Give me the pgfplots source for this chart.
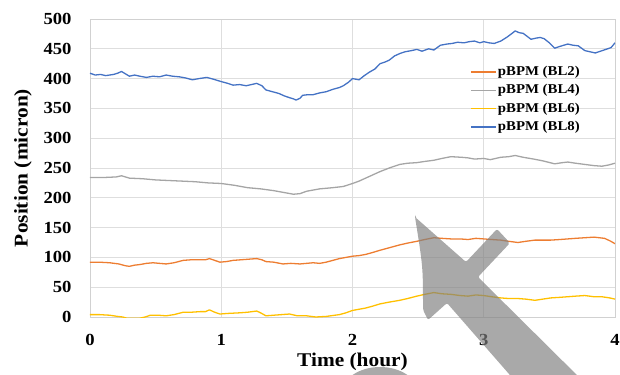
\documentclass[border=0pt]{standalone}
\usepackage{pgfplots}
\pgfplotsset{compat=1.18}
\usepackage{fontspec}
\setmainfont{Liberation Serif}[FakeStretch=1.1]
\definecolor{cOr}{HTML}{ED7D31}
\definecolor{cGr}{HTML}{A5A5A5}
\definecolor{cYe}{HTML}{FFC000}
\definecolor{cBl}{HTML}{4472C4}
\begin{document}
\begin{tikzpicture}
\useasboundingbox (-90bp,-58bp) rectangle (530bp,317bp);
\clip (-90bp,-58bp) rectangle (530bp,317bp);
\begin{axis}[
  at={(0,0)}, anchor=south west,
  scale only axis, width=525bp, height=298bp,
  xmin=0, xmax=4, ymin=0, ymax=500,
  xtick={0,1,2,3,4}, ytick={0,50,...,500},
  grid=major, grid style={black!13, line width=0.8pt},
  axis line style={black!18, line width=0.8pt},
  tick style={draw=none},
  /pgf/number format/assume math mode=true,
  ticklabel style={font=\bfseries\fontsize{17}{17}\selectfont},
  xticklabel style={yshift=-14bp},
  yticklabel style={xshift=-15bp},
  xlabel={Time (hour)}, ylabel={Position (micron)},
  label style={font=\bfseries\fontsize{19.5}{20}\selectfont},
  xlabel style={yshift=0bp},
  ylabel style={yshift=5bp},
  legend style={at={(axis cs:2.895,425)}, anchor=north west, draw=none, fill=none,
    font=\bfseries\fontsize{13.5}{13.5}\selectfont, row sep=2.4bp, inner sep=0pt,
    nodes={inner sep=1.5bp, text height=10bp, text depth=3bp}},
  legend cell align=left,
  legend image code/.code={\draw[#1] (0bp,0bp) -- (25bp,0bp);},
  every axis plot/.append style={line width=1.3pt, line join=round},
]
\addplot[color=cOr] coordinates {(0,92) (0.07,92) (0.15,91) (0.22,89) (0.27,86) (0.30,85) (0.34,87) (0.38,88) (0.43,90) (0.48,91) (0.53,90) (0.58,89) (0.64,91) (0.71,95) (0.77,96) (0.84,96) (0.88,96) (0.91,98) (0.95,95) (0.99,92) (1.04,93) (1.09,95) (1.15,96) (1.21,97) (1.27,98) (1.31,96) (1.34,93) (1.40,92) (1.47,89) (1.53,90) (1.60,89) (1.65,90) (1.70,91) (1.75,90) (1.80,92) (1.85,95) (1.90,98) (1.95,100) (2.0,102) (2.05,103) (2.1,105) (2.15,108) (2.21,112) (2.26,115) (2.31,118) (2.36,121) (2.42,124) (2.49,127) (2.55,130) (2.62,133) (2.68,132) (2.75,131) (2.82,131) (2.88,130) (2.94,132) (3.0,131) (3.06,130) (3.13,129) (3.19,127) (3.26,125) (3.32,127) (3.39,129) (3.45,129) (3.51,129) (3.58,130) (3.64,131) (3.70,132) (3.77,133) (3.84,134) (3.88,133) (3.92,132) (3.96,128) (4.0,123)};
\addlegendentry{pBPM (BL2)}
\addplot[color=cGr] coordinates {(0,234) (0.1,234) (0.2,235) (0.24,237) (0.3,233) (0.4,232) (0.5,230) (0.6,229) (0.7,228) (0.8,227) (0.9,225) (1.0,224) (1.1,221) (1.2,217) (1.3,215) (1.4,212) (1.5,208) (1.55,206) (1.6,207) (1.65,211) (1.7,213) (1.75,215) (1.8,216) (1.85,217) (1.93,219) (2.0,224) (2.05,228) (2.1,233) (2.15,238) (2.21,244) (2.28,250) (2.36,256) (2.42,258) (2.49,259) (2.55,261) (2.62,263) (2.68,266) (2.75,269) (2.83,268) (2.88,267) (2.93,265) (3.0,266) (3.05,264) (3.13,268) (3.19,269) (3.24,271) (3.30,268) (3.38,265) (3.45,262) (3.54,257) (3.60,259) (3.64,260) (3.70,258) (3.77,256) (3.84,254) (3.90,253) (3.95,255) (4.0,258)};
\addlegendentry{pBPM (BL4)}
\addplot[color=cYe] coordinates {(0,4) (0.07,4) (0.15,3) (0.21,1) (0.25,0) (0.28,-2) (0.33,-2) (0.38,-2) (0.42,0) (0.46,3) (0.52,3) (0.58,2) (0.64,4) (0.71,8) (0.77,8) (0.84,9) (0.88,9) (0.91,12) (0.95,8) (0.99,5) (1.05,6) (1.14,7) (1.20,8) (1.27,10) (1.30,7) (1.34,2) (1.40,3) (1.46,4) (1.52,5) (1.58,2) (1.65,2) (1.72,0) (1.80,1) (1.90,4) (1.95,7) (2.0,11) (2.05,13) (2.1,15) (2.15,18) (2.21,22) (2.28,25) (2.36,28) (2.42,31) (2.49,35) (2.55,38) (2.62,41) (2.68,39) (2.75,38) (2.82,36) (2.88,35) (2.94,37) (3.0,36) (3.06,34) (3.13,32) (3.19,31) (3.26,31) (3.32,30) (3.39,28) (3.45,30) (3.51,32) (3.58,33) (3.64,34) (3.70,35) (3.77,36) (3.84,34) (3.90,34) (3.96,32) (4.0,30)};
\addlegendentry{pBPM (BL6)}
\addplot[color=cBl] coordinates {(0,409) (0.04,406) (0.08,407) (0.12,405) (0.18,407) (0.21,409) (0.24,412) (0.27,408) (0.30,404) (0.34,406) (0.38,404) (0.43,402) (0.48,404) (0.53,403) (0.58,406) (0.63,404) (0.68,403) (0.73,401) (0.78,398) (0.83,400) (0.89,402) (0.94,399) (1.0,395) (1.05,392) (1.09,389) (1.14,390) (1.19,388) (1.23,390) (1.27,392) (1.31,388) (1.34,381) (1.39,378) (1.44,375) (1.48,371) (1.52,368) (1.55,366) (1.57,364) (1.60,367) (1.62,372) (1.66,373) (1.70,373) (1.75,376) (1.80,378) (1.85,382) (1.90,385) (1.93,388) (1.97,394) (2.0,400) (2.05,398) (2.09,405) (2.13,411) (2.17,416) (2.21,425) (2.25,428) (2.28,431) (2.32,438) (2.36,442) (2.40,445) (2.45,447) (2.49,449) (2.53,446) (2.58,450) (2.62,448) (2.67,456) (2.72,458) (2.76,459) (2.80,461) (2.85,460) (2.89,462) (2.93,463) (2.97,460) (3.0,462) (3.04,460) (3.08,459) (3.13,463) (3.18,470) (3.21,475) (3.24,480) (3.27,477) (3.30,476) (3.33,471) (3.36,466) (3.40,468) (3.43,469) (3.46,467) (3.50,460) (3.54,451) (3.58,454) (3.64,458) (3.68,456) (3.72,455) (3.77,447) (3.81,445) (3.85,443) (3.89,446) (3.93,449) (3.97,452) (4.0,460)};
\addlegendentry{pBPM (BL8)}
\end{axis}
% decorative overlay arrow present in the reference image
\fill[black!50, opacity=0.68, rounded corners=2bp]
  (325bp,100bp) -- (376bp,55bp) -- (407bp,88bp) -- (420bp,74bp) -- (388bp,40bp) -- (502bp,-73bp)
  -- (433bp,-73bp) -- (357bp,14bp) -- (338bp,-3bp) -- (333bp,7bp) .. controls (333bp,50bp) .. cycle;
\fill[black!50, opacity=0.68] (290bp,-76bp) ellipse [x radius=38bp, y radius=26bp];
\end{tikzpicture}
\end{document}
